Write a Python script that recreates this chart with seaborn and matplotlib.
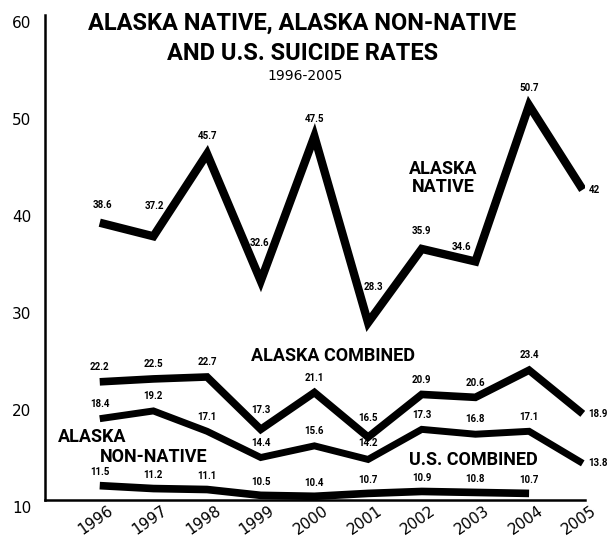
import numpy as np
import pandas as pd
import matplotlib
matplotlib.use("Agg")
import matplotlib.pyplot as plt
import matplotlib.transforms as mtransforms
import seaborn as sns

sns.set_theme(style="white")
plt.rcParams['font.family'] = ['Roboto', 'DejaVu Sans']
plt.rcParams['text.color'] = 'black'
plt.rcParams['xtick.labelcolor'] = 'black'
plt.rcParams['ytick.labelcolor'] = 'black'

years = [1996, 1997, 1998, 1999, 2000, 2001, 2002, 2003, 2004, 2005]
native = [38.6, 37.2, 45.7, 32.6, 47.5, 28.3, 35.9, 34.6, 50.7, 42]
ak_combined = [22.2, 22.5, 22.7, 17.3, 21.1, 16.5, 20.9, 20.6, 23.4, 18.9]
non_native = [18.4, 19.2, 17.1, 14.4, 15.6, 14.2, 17.3, 16.8, 17.1, 13.8]
us_years = years[:9]
us_combined = [11.5, 11.2, 11.1, 10.5, 10.4, 10.7, 10.9, 10.8, 10.7]

fig = plt.figure(figsize=(6.08, 5.39), dpi=100)
ax = fig.add_axes([0.074, 0.072, 0.888, 0.900])

series = [
    (years, native, 6.0),
    (years, ak_combined, 5.5),
    (years, non_native, 5.0),
    (us_years, us_combined, 5.5),
]
for xs, ys, lw in series:
    d = pd.DataFrame({"year": xs, "rate": ys})
    sns.lineplot(data=d, x="year", y="rate", ax=ax, color="black", lw=lw,
                 solid_joinstyle="miter", solid_capstyle="butt")

# data labels: offsets in points, plus horizontal alignment
def labels(xs, ys, default=(0, 7, "center"), special=None):
    special = special or {}
    for i, (x, y) in enumerate(zip(xs, ys)):
        dx, dy, ha = special.get(i, default)
        ax.annotate(f"{y:g}", (x, y), xytext=(dx, dy), textcoords="offset points",
                    ha=ha, va="bottom" if dy != 0 else "center",
                    fontsize=7, fontweight="bold", color="black")

labels(years, native, (0, 9, "center"),
       {0: (2, 9, "center"), 1: (1, 18, "center"), 3: (-1, 24, "center"),
        5: (4, 22, "center"), 7: (-3, 7, "right"), 9: (4, 0, "left")})
labels(years, ak_combined, (0, 7, "center"),
       {3: (0, 10, "center"), 5: (0, 10, "center"), 9: (4, 0, "left")})
labels(years, non_native, (0, 7, "center"),
       {5: (0, 8, "center"), 9: (4, 0, "left")})
labels(us_years, us_combined, (0, 6, "center"))

# series names
ax.text(2002.4, 43.2, "ALASKA\nNATIVE", ha="center", va="center",
        fontsize=13, fontweight="bold", linespacing=1.0)
ax.text(2000.35, 24.9, "ALASKA COMBINED", ha="center", va="center",
        fontsize=13, fontweight="bold")
ax.text(1995.22, 16.5, "ALASKA", ha="left", va="center", fontsize=13, fontweight="bold")
ax.text(1996.0, 14.45, "NON-NATIVE", ha="left", va="center", fontsize=13, fontweight="bold")
ax.text(2002.97, 14.1, "U.S. COMBINED", ha="center", va="center",
        fontsize=13, fontweight="bold")

# title
fig.text(0.497, 0.929, "ALASKA NATIVE, ALASKA NON-NATIVE\nAND U.S. SUICIDE RATES",
         ha="center", va="center", fontsize=17, fontweight="bold", linespacing=1.4)
fig.text(0.502, 0.859, "1996-2005", ha="center", va="center", fontsize=10,
         family=["DejaVu Sans"])

ax.set_xlim(1994.98, 2005.04)
ax.set_ylim(10, 60)
ax.set_yticks([10, 20, 30, 40, 50, 60])
ax.set_xticks(years)
ax.set_xticklabels([str(y) for y in years], rotation=35, fontsize=11,
                   family=["DejaVu Sans"], ha="right", va="top",
                   rotation_mode="anchor")
ax.set_yticklabels(["10", "20", "30", "40", "50", "60"], fontsize=11,
                   family=["DejaVu Sans"])
ax.set_xlabel("")
ax.set_ylabel("")

sns.despine(ax=ax)
for s in ["left", "bottom"]:
    ax.spines[s].set_color("black")
    ax.spines[s].set_linewidth(1.8)
ax.tick_params(axis="y", direction="in", length=9, width=1.5, color="black", pad=10)
ax.tick_params(axis="x", direction="in", length=4, width=1.2, color="black", pad=2)

yoff = mtransforms.ScaledTranslation(0, -7 / 100, fig.dpi_scale_trans)
for lab in ax.get_yticklabels():
    lab.set_transform(lab.get_transform() + yoff)
xoff = mtransforms.ScaledTranslation(8 / 100, 0, fig.dpi_scale_trans)
for lab in ax.get_xticklabels():
    lab.set_transform(lab.get_transform() + xoff)

fig.savefig("out.png", dpi=100)
